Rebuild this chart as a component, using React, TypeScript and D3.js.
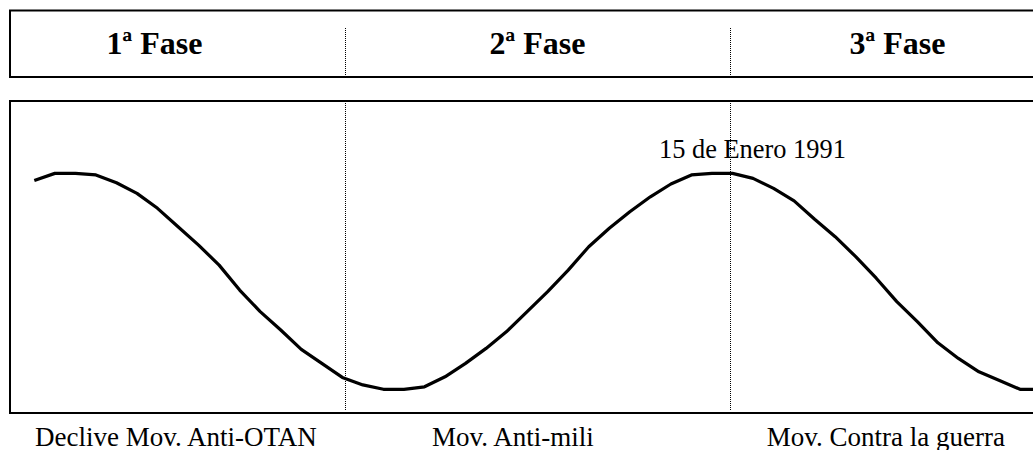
import React from 'react';
import * as d3 from 'd3';

// curve level, one value per step (0 = box floor, 100 = box top)
const levels = [
  74.5, 76.8, 76.8, 76.3, 73.8, 70.4, 65.6, 59.7, 53.8, 47.4,
  39.4, 32.5, 26.6, 20.4, 15.9, 11.4, 9.0, 7.6, 7.6, 8.4,
  11.6, 15.9, 20.7, 26.1, 32.5, 38.9, 45.8, 53.3, 59.2, 64.5,
  69.3, 73.4, 76.3, 76.8, 76.8, 75.2, 72.0, 68.0, 62.1, 56.5,
  50.1, 43.2, 35.7, 29.3, 22.5, 17.5, 13.2, 10.4, 7.6, 7.6,
];

const phases = ['1ª Fase', '2ª Fase', '3ª Fase'];
const movements = ['Declive Mov. Anti-OTAN', 'Mov. Anti-mili', 'Mov. Contra la guerra'];
const phaseBreaks = [15.13, 33.9]; // step positions of the dotted separators
const annotation = '15 de Enero 1991';

const width = 1033;
const height = 450;
const font = "'Liberation Serif', 'Times New Roman', Times, serif";

export default function App() {
  const x = d3.scaleLinear().domain([0, 48]).range([34.3, 1020]);
  const y = d3.scaleLinear().domain([0, 100]).range([413, 101]);

  const line = d3
    .line<number>()
    .x((_, i) => x(i))
    .y((d) => y(d))
    .curve(d3.curveLinear);

  const phaseX = [154.5, 537.5, 897.5];
  const moveX = [35, 432, 766.7];

  return (
    <svg
      width={width}
      height={height}
      style={{ position: 'absolute', left: 0, top: 0, display: 'block', background: '#fff' }}
    >
      {/* phase header box */}
      <rect x={10} y={10.5} width={1040} height={66.5} fill="none" stroke="#000" strokeWidth={2} />
      {phaseBreaks.map((b, i) => (
        <line
          key={'h' + i}
          x1={Math.round(x(b)) + 0.5}
          x2={Math.round(x(b)) + 0.5}
          y1={28}
          y2={76}
          stroke="#000"
          strokeWidth={1}
          strokeDasharray="1,1"
        />
      ))}
      {phases.map((p, i) => (
        <text
          key={p}
          x={phaseX[i]}
          y={54}
          textAnchor="middle"
          style={{ fontFamily: font, fontWeight: 700, fontSize: '32px' }}
          fill="#000"
        >
          {p}
        </text>
      ))}

      {/* curve box */}
      <rect x={10} y={101} width={1040} height={312} fill="none" stroke="#000" strokeWidth={2} />

      <text x={659} y={158} style={{ fontFamily: font, fontSize: '26.4px' }} fill="#000">
        {annotation}
      </text>

      {phaseBreaks.map((b, i) => (
        <line
          key={'b' + i}
          x1={Math.round(x(b)) + 0.5}
          x2={Math.round(x(b)) + 0.5}
          y1={103}
          y2={411}
          stroke="#000"
          strokeWidth={1}
          strokeDasharray="1,1"
        />
      ))}

      <path
        d={line(levels) || ''}
        fill="none"
        stroke="#000"
        strokeWidth={3.2}
        strokeLinejoin="round"
      />

      {movements.map((m, i) => (
        <text key={m} x={moveX[i]} y={446} style={{ fontFamily: font, fontSize: '27px' }} fill="#000">
          {m}
        </text>
      ))}
    </svg>
  );
}
